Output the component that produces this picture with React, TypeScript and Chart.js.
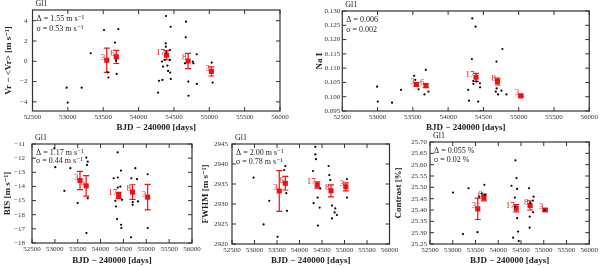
import React, { useEffect, useRef } from "react";
import { Chart, registerables } from "chart.js";
Chart.register(...registerables);

// ---------- data ----------
const xTickValues = [52500, 53000, 53500, 54000, 54500, 55000, 55500, 56000];
const binDates = [53550, 53685, 54395, 54700, 55030];
const binCounts = [3, 6, 17, 8, 3];

// Radial velocity
const rvDates = [52983, 52997, 53195, 53323, 53511, 53563, 53573, 53667, 53681, 53690, 53714, 54276, 54290, 54332, 54337, 54346, 54370, 54384, 54386, 54388, 54393, 54407, 54417, 54445, 54447, 54443, 54454, 54456, 54657, 54667, 54671, 54704, 54706, 54766, 54775, 54822, 54824, 55034, 55048];
const rvValues = [-2.6, -4.07, -2.6, 0.79, 3.08, -1.1, -1.6, 1.84, 0.07, -1.25, 3.18, -3.08, -1.93, -0.03, -1.84, -0.52, 0.13, 1.77, 1.44, 4.46, 0.89, -0.43, -0.95, 1.11, -1.11, 0.13, 3.4, -1.74, -0.2, 2.36, 3.9, -2.0, -3.4, -0.03, -0.2, 0.69, -2.23, -0.13, -2.1];
const rvBinMeans = [0.1, 0.43, 0.6, 0.03, -1.0];
const rvBinErrors = [1.2, 0.65, 0.45, 0.75, 0.45];
const rvTicks = [-4, -2, 0, 2, 4];

// Na I index
const naDates = [52993, 53003, 53205, 53332, 53519, 53534, 53581, 53665, 53684, 53721, 54285, 54295, 54337, 54342, 54356, 54358, 54389, 54403, 54426, 54450, 54452, 54459, 54675, 54685, 54687, 54708, 54755, 54769, 54826];
const naValues = [0.1035, 0.0983, 0.0979, 0.1024, 0.1073, 0.1059, 0.1026, 0.1008, 0.1094, 0.1018, 0.1024, 0.0986, 0.1132, 0.1274, 0.1055, 0.1045, 0.1245, 0.1053, 0.0983, 0.1047, 0.1033, 0.095, 0.1018, 0.1123, 0.1029, 0.1008, 0.1021, 0.1167, 0.1008];
const naBinMeans = [0.1043, 0.1039, 0.1068, 0.1053, 0.1003];
const naBinErrors = [0.0006, 0.0007, 0.0014, 0.0012, 0.0003];
const naTicks = [0.095, 0.1, 0.105, 0.11, 0.115, 0.12, 0.125, 0.13];

// BIS
const bisDates = [52989, 53010, 53207, 53339, 53499, 53689, 53718, 53703, 53720, 53691, 54286, 54323, 54338, 54359, 54374, 54376, 54378, 54432, 54447, 54449, 54454, 54469, 54666, 54673, 54702, 54704, 54761, 54797, 54819, 55030, 55032];
const bisValues = [-11.31, -12.64, -14.31, -12.71, -15.18, -11.96, -12.25, -12.48, -14.83, -17.3, -13.42, -15.02, -15.42, -16.31, -11.59, -13.37, -14.08, -14.01, -12.88, -16.71, -16.94, -14.95, -17.6, -13.42, -15.3, -15.11, -12.71, -13.49, -15.06, -13.14, -16.94];
const bisBinMeans = [-13.58, -13.96, -14.64, -14.4, -14.76];
const bisBinErrors = [0.65, 0.72, 0.22, 0.52, 0.9];
const bisTicks = [-18, -17, -16, -15, -14, -13, -12, -11];

// FWHM
const fwhmDates = [52980, 53202, 53328, 53513, 53661, 53684, 53706, 53721, 54299, 54314, 54351, 54353, 54366, 54403, 54410, 54447, 54462, 54647, 54662, 54684, 54721, 54723, 54780, 54795, 54832, 55054, 55056];
const fwhmValues = [2936.6, 2924.9, 2930.8, 2921.8, 2938.5, 2939.5, 2932.7, 2928.3, 2938.25, 2930.2, 2944.3, 2942.4, 2941.2, 2931.6, 2924.6, 2929.1, 2933.9, 2939.5, 2937.25, 2936, 2926.4, 2929.6, 2927.9, 2928.9, 2927.25, 2936.25, 2931.6];
const fwhmBinMeans = [2933.25, 2935.2, 2934.75, 2933.3, 2934.3];
const fwhmBinErrors = [5.1, 1.7, 0.8, 1.5, 1.0];
const fwhmTicks = [2920, 2925, 2930, 2935, 2940, 2945];

// Contrast
const conDates = [53006, 53224, 53347, 53543, 53579, 53637, 53695, 53710, 54291, 54327, 54378, 54400, 54414, 54364, 54436, 54451, 54416, 54366, 54676, 54690, 54692, 54705, 54777, 54763, 54765, 55017];
const conValues = [25.477, 25.294, 25.496, 25.302, 25.459, 25.474, 25.511, 25.467, 25.507, 25.278, 25.619, 25.541, 25.493, 25.455, 25.305, 25.263, 25.364, 25.415, 25.496, 25.322, 25.371, 25.43, 25.459, 25.442, 25.39, 25.4];
const conBinMeans = [25.405, 25.455, 25.408, 25.42, 25.4];
const conBinErrors = [0.047, 0.015, 0.016, 0.02, 0.005];
const conTicks = [25.25, 25.3, 25.35, 25.4, 25.45, 25.5, 25.55, 25.6, 25.65, 25.7];

// ---------- styling / layout ----------
const FONT = '"Liberation Serif", "DejaVu Serif", serif';
const RED = "#ee1111";
const neg = (v: number) => (v < 0 ? "\u2212" + Math.abs(v) : String(v));

type Spec = {
  L: number; T: number; R: number; B: number;
  cx: number; cy: number; cw: number; ch: number;
  yMin: number; yMax: number; yTicks: number[]; yFmt: (v: number) => string; yPad: number;
  yTitle: string;
  dates: number[]; values: number[]; means: number[]; errors: number[];
  notes: string[]; noteDy: number;
};

const specs: Spec[] = [
  {
    L: 32.5, T: 10, R: 280, B: 111, cx: 3, cy: 0, cw: 291, ch: 133,
    yMin: -4.9, yMax: 5.05, yTicks: rvTicks, yFmt: neg, yPad: 5,
    yTitle: "Vr \u2212 <Vr> [m s\u207B\u00B9]",
    dates: rvDates, values: rvValues, means: rvBinMeans, errors: rvBinErrors,
    notes: ["\u0394 = 1.55 m s\u207B\u00B9", "\u03C3 = 0.53 m s\u207B\u00B9"], noteDy: 9.5,
  },
  {
    L: 342.3, T: 11, R: 590, B: 111, cx: 314, cy: 0, cw: 286, ch: 133,
    yMin: 0.095, yMax: 0.13, yTicks: naTicks, yFmt: (v) => v.toFixed(3), yPad: 2,
    yTitle: "Na I",
    dates: naDates, values: naValues, means: naBinMeans, errors: naBinErrors,
    notes: ["\u0394 = 0.006", "\u03C3 = 0.002"], noteDy: 9.5,
  },
  {
    L: 32, T: 144, R: 192, B: 243, cx: 2, cy: 132, cw: 202, ch: 134,
    yMin: -18, yMax: -11, yTicks: bisTicks, yFmt: neg, yPad: 7,
    yTitle: "BIS [m s\u207B\u00B9]",
    dates: bisDates, values: bisValues, means: bisBinMeans, errors: bisBinErrors,
    notes: ["\u0394 = 1.17 m s\u207B\u00B9", "\u03C3 = 0.44 m s\u207B\u00B9"], noteDy: 8,
  },
  {
    L: 232, T: 144, R: 389.5, B: 244, cx: 200, cy: 132, cw: 202, ch: 134,
    yMin: 2920, yMax: 2945, yTicks: fwhmTicks, yFmt: (v) => String(v), yPad: 4,
    yTitle: "FWHM [m s\u207B\u00B9]",
    dates: fwhmDates, values: fwhmValues, means: fwhmBinMeans, errors: fwhmBinErrors,
    notes: ["\u0394 = 2.00 m s\u207B\u00B9", "\u03C3 = 0.78 m s\u207B\u00B9"], noteDy: 8.5,
  },
  {
    L: 430, T: 142, R: 590, B: 244, cx: 393, cy: 132, cw: 207, ch: 134,
    yMin: 25.25, yMax: 25.7, yTicks: conTicks, yFmt: (v) => v.toFixed(2), yPad: 3,
    yTitle: "Contrast [%]",
    dates: conDates, values: conValues, means: conBinMeans, errors: conBinErrors,
    notes: ["\u0394 = 0.055 %", "\u03C3 = 0.02 %"], noteDy: 8.5,
  },
];

function makeDecor(s: Spec) {
  return {
    id: "decor",
    beforeDatasetsDraw(chart: any) {
      const ctx = chart.ctx;
      const xs = chart.scales.x, ys = chart.scales.y;
      ctx.save();
      ctx.strokeStyle = RED;
      ctx.lineWidth = 1.2;
      binDates.forEach((d, i) => {
        const x = xs.getPixelForValue(d);
        const y1 = ys.getPixelForValue(s.means[i] - s.errors[i]);
        const y2 = ys.getPixelForValue(s.means[i] + s.errors[i]);
        ctx.beginPath();
        ctx.moveTo(x, y1); ctx.lineTo(x, y2);
        ctx.moveTo(x - 3, y1); ctx.lineTo(x + 3, y1);
        ctx.moveTo(x - 3, y2); ctx.lineTo(x + 3, y2);
        ctx.stroke();
      });
      ctx.restore();
    },
    afterDatasetsDraw(chart: any) {
      const ctx = chart.ctx;
      const xs = chart.scales.x, ys = chart.scales.y;
      const { left, top, right, bottom } = chart.chartArea;
      ctx.save();
      // bin counts
      ctx.fillStyle = RED;
      ctx.font = `9px ${FONT}`;
      ctx.textAlign = "right";
      ctx.textBaseline = "middle";
      binDates.forEach((d, i) => {
        const x = xs.getPixelForValue(d);
        const y = ys.getPixelForValue(s.means[i]);
        ctx.fillText(String(binCounts[i]), x - 1.5, y - 3);
      });
      // frame
      ctx.strokeStyle = "#333";
      ctx.lineWidth = 1.2;
      ctx.strokeRect(left, top, right - left, bottom - top);
      ctx.lineWidth = 1;
      ctx.beginPath();
      xTickValues.forEach((v) => {
        const x = xs.getPixelForValue(v);
        ctx.moveTo(x, bottom); ctx.lineTo(x, bottom - 4);
        ctx.moveTo(x, top); ctx.lineTo(x, top + 4);
      });
      s.yTicks.forEach((v) => {
        const y = ys.getPixelForValue(v);
        ctx.moveTo(left, y); ctx.lineTo(left + 4, y);
        ctx.moveTo(right, y); ctx.lineTo(right - 4, y);
      });
      ctx.stroke();
      // texts
      ctx.fillStyle = "#222";
      ctx.textAlign = "left";
      ctx.font = `8px ${FONT}`;
      ctx.fillText("Gl1", left + 3, top - 6);
      ctx.fillText(s.notes[0], left + 4, top + 9);
      ctx.fillText(s.notes[1], left + 4, top + 9 + s.noteDy);
      ctx.restore();
    },
  };
}

function buildConfig(s: Spec): any {
  const yw = s.L - s.cx;
  const padTop = s.T - s.cy;
  const xh = s.cy + s.ch - s.B;
  const padRight = s.cx + s.cw - s.R;
  const tickFont = { family: FONT, size: 7 };
  const titleFont = { family: FONT, size: 9, weight: "bold" as const };
  return {
    type: "scatter",
    data: {
      datasets: [
        {
          data: s.dates.map((d, i) => ({ x: d, y: s.values[i] })),
          pointRadius: 1.1,
          pointBackgroundColor: "#000",
          pointBorderWidth: 0,
        },
        {
          data: binDates.map((d, i) => ({ x: d, y: s.means[i] })),
          pointStyle: "rect",
          pointRadius: 3.6,
          pointBackgroundColor: RED,
          pointBorderColor: RED,
          pointBorderWidth: 0,
        },
      ],
    },
    options: {
      animation: false,
      responsive: false,
      maintainAspectRatio: false,
      devicePixelRatio: 1,
      events: [],
      layout: { padding: { left: 0, top: padTop, right: padRight, bottom: 0 } },
      plugins: { legend: { display: false }, tooltip: { enabled: false } },
      scales: {
        x: {
          type: "linear",
          min: 52500,
          max: 56000,
          afterBuildTicks: (a: any) => { a.ticks = xTickValues.map((v) => ({ value: v })); },
          afterFit: (a: any) => { a.height = xh; },
          grid: { display: false, drawTicks: false },
          border: { display: false },
          ticks: { font: tickFont, color: "#333", padding: 2, maxRotation: 0, autoSkip: false, callback: (v: number) => String(v) },
          title: { display: true, text: "BJD \u2212 240000 [days]", font: titleFont, color: "#222", padding: 0 },
        },
        y: {
          type: "linear",
          min: s.yMin,
          max: s.yMax,
          afterBuildTicks: (a: any) => { a.ticks = s.yTicks.map((v) => ({ value: v })); },
          afterFit: (a: any) => { a.width = yw; },
          grid: { display: false, drawTicks: false },
          border: { display: false },
          ticks: { font: tickFont, color: "#333", padding: s.yPad, autoSkip: false, callback: (v: number) => s.yFmt(v) },
          title: { display: true, text: s.yTitle, font: titleFont, color: "#222", padding: 0 },
        },
      },
    },
    plugins: [makeDecor(s)],
  };
}

function Panel({ spec }: { spec: Spec }) {
  const ref = useRef<HTMLCanvasElement | null>(null);
  useEffect(() => {
    if (!ref.current) return;
    const chart = new Chart(ref.current, buildConfig(spec));
    return () => chart.destroy();
  }, [spec]);
  return (
    <canvas
      ref={ref}
      width={spec.cw}
      height={spec.ch}
      style={{ position: "absolute", left: spec.cx, top: spec.cy, width: spec.cw, height: spec.ch }}
    />
  );
}

export default function App() {
  return (
    <div style={{ position: "absolute", left: 0, top: 0, width: 600, height: 267, background: "#fff", overflow: "hidden" }}>
      {specs.map((s, i) => (
        <Panel key={i} spec={s} />
      ))}
    </div>
  );
}
